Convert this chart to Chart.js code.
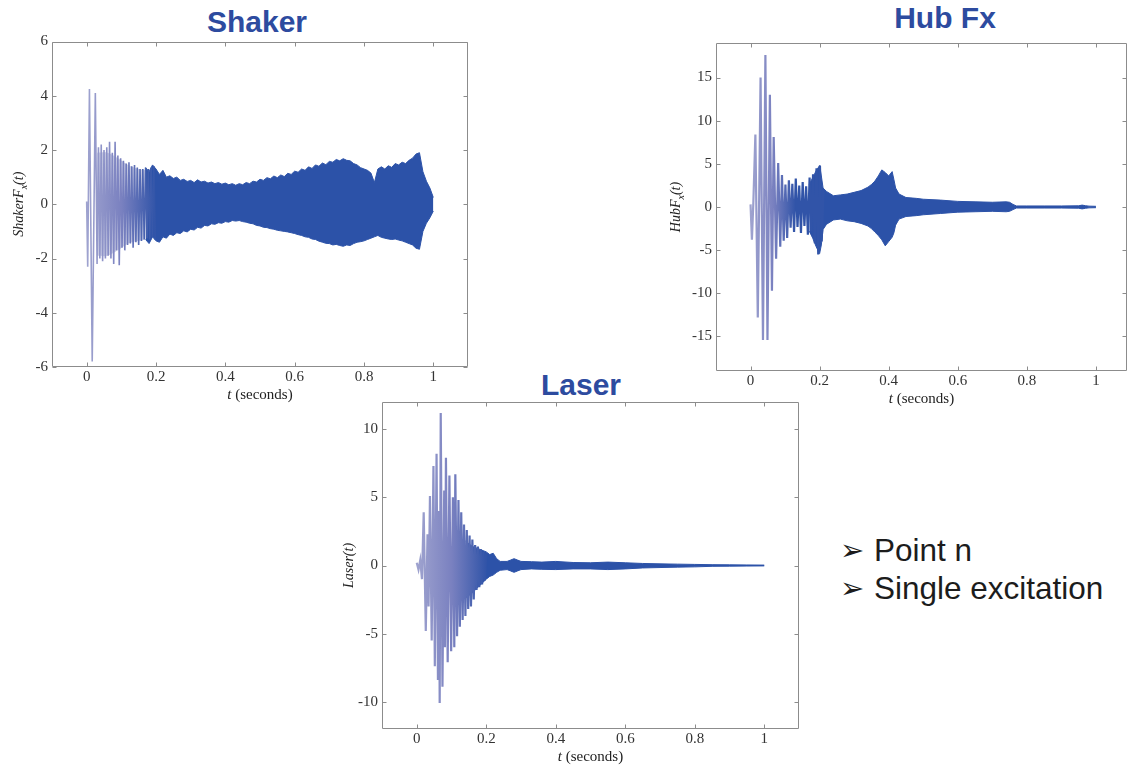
<!DOCTYPE html>
<html>
<head>
<meta charset="utf-8">
<script src="https://cdn.jsdelivr.net/npm/chart.js@4.4.1/dist/chart.umd.min.js"></script>
<style>
  html, body { margin: 0; padding: 0; background: #fff; overflow: hidden; }
  body { width: 1128px; height: 767px; position: relative; }
  canvas { position: absolute; }
  .ttl { position: absolute; font: bold 30px "Liberation Sans", Arial, sans-serif; color: #2d4b9f; line-height: 30px; white-space: nowrap; transform: translateX(-50%); }
  .bullets { position: absolute; left: 840px; top: 532px; font: 31.5px "Liberation Sans", Arial, sans-serif; line-height: 37.5px; color: #1c1c1c; white-space: nowrap; }
  .arr { display: inline-block; width: 34px; font: 29px "DejaVu Sans", sans-serif; vertical-align: 1px; }
</style>
</head>
<body>
<div class="ttl" style="left:257px; top:7px">Shaker</div>
<div class="ttl" style="left:945px; top:3px">Hub Fx</div>
<div class="ttl" style="left:581px; top:370px">Laser</div>
<div class="bullets">
  <div><span class="arr">➢</span>Point n</div>
  <div><span class="arr">➢</span>Single excitation</div>
</div>

<canvas id="shaker" width="480" height="380" style="left:0; top:30px"></canvas>
<canvas id="hub" width="468" height="400" style="left:660px; top:30px"></canvas>
<canvas id="laser" width="480" height="390" style="left:330px; top:380px"></canvas>

<script>
// Shaker: sparse start (peaks), pale fill behind it, then dense part (envelope)
const shakerSpikeT = [0, 0.003, 0.008, 0.016, 0.025, 0.030, 0.034, 0.038, 0.042, 0.046, 0.050, 0.054, 0.058, 0.062, 0.066, 0.070, 0.074, 0.078, 0.082, 0.086, 0.090, 0.094, 0.098, 0.102, 0.106, 0.110, 0.114, 0.118, 0.122, 0.126, 0.130, 0.134, 0.138, 0.142, 0.146, 0.150, 0.154, 0.158, 0.162, 0.166, 0.170, 0.174, 0.178, 0.182, 0.186, 0.190, 0.194, 0.198];
const shakerSpikeV = [0.1, -2.3, 4.25, -5.8, 4.1, -2.2, 2.1, -2.0, 2.2, -2.1, 2.0, -2.0, 2.1, -1.9, 2.3, -2.0, 1.9, -2.2, 2.3, -1.7, 1.8, -2.25, 1.7, -1.6, 1.6, -1.7, 1.5, -1.5, 1.55, -1.45, 1.4, -1.6, 1.45, -1.4, 1.35, -1.5, 1.3, -1.35, 1.3, -1.3, 1.35, -1.25, 1.3, -1.3, 1.35, -1.2, 1.4, -1.3];
const shakerHaloT = [0.03, 0.06, 0.09, 0.12, 0.15, 0.17];
const shakerHaloHi = [1.9, 1.9, 1.7, 1.45, 1.3, 1.25];
const shakerHaloLo = [-1.9, -1.9, -1.7, -1.45, -1.35, -1.3];
const shakerBandT = [0.17, 0.18, 0.19, 0.20, 0.21, 0.22, 0.23, 0.24, 0.25, 0.26,
    0.27, 0.28, 0.29, 0.30, 0.31, 0.32, 0.33, 0.34, 0.35, 0.36,
    0.37, 0.38, 0.39, 0.40, 0.41, 0.42, 0.43, 0.44, 0.45, 0.46,
    0.47, 0.48, 0.49, 0.50, 0.51, 0.52, 0.53, 0.54, 0.55, 0.56,
    0.57, 0.58, 0.59, 0.60, 0.61, 0.62, 0.63, 0.64, 0.65, 0.66,
    0.67, 0.68, 0.69, 0.70, 0.71, 0.72, 0.73, 0.74, 0.75, 0.76,
    0.77, 0.78, 0.79, 0.80, 0.81, 0.82, 0.83, 0.84, 0.85, 0.86,
    0.87, 0.88, 0.89, 0.90, 0.91, 0.92, 0.93, 0.94, 0.95, 0.96,
    0.97, 0.98, 0.99, 1.00];
const shakerBandHi = [1.35, 1.2, 1.45, 1.3, 1.1, 1.25, 1.0, 1.05, 0.95, 1.0,
    0.88, 0.92, 0.84, 0.88, 0.8, 0.9, 0.82, 0.85, 0.78, 0.82,
    0.76, 0.8, 0.74, 0.78, 0.72, 0.76, 0.7, 0.76, 0.72, 0.8,
    0.76, 0.85, 0.82, 0.92, 0.88, 0.98, 0.94, 1.04, 0.98, 1.08,
    1.02, 1.14, 1.1, 1.22, 1.18, 1.3, 1.25, 1.38, 1.32, 1.45,
    1.4, 1.52, 1.46, 1.58, 1.55, 1.65, 1.6, 1.68, 1.62, 1.6,
    1.5, 1.45, 1.35, 1.3, 1.25, 1.15, 0.8, 1.3, 1.38, 1.3,
    1.42, 1.36, 1.5, 1.45, 1.55, 1.5, 1.62, 1.7, 1.85, 1.9,
    1.2, 0.85, 0.6, 0.25];
const shakerBandLo = [-1.3, -1.45, -1.2, -1.35, -1.4, -1.2, -1.25, -1.1, -1.15, -1.05,
    -1.08, -0.98, -1.02, -0.92, -0.95, -0.85, -0.88, -0.78, -0.8, -0.72,
    -0.74, -0.68, -0.7, -0.64, -0.66, -0.6, -0.62, -0.6, -0.64, -0.66,
    -0.7, -0.72, -0.78, -0.8, -0.85, -0.86, -0.9, -0.92, -0.96, -0.98,
    -1.0, -1.02, -1.05, -1.08, -1.12, -1.15, -1.2, -1.22, -1.28, -1.3,
    -1.36, -1.4, -1.44, -1.45, -1.5, -1.48, -1.52, -1.55, -1.5, -1.52,
    -1.45, -1.4, -1.38, -1.35, -1.3, -1.25, -1.2, -1.15, -1.22, -1.25,
    -1.28, -1.3, -1.28, -1.32, -1.35, -1.4, -1.45, -1.5, -1.62, -1.66,
    -1.0, -0.7, -0.5, -0.25];

// Hub Fx
const hubSpikeT = [0, 0.004, 0.008, 0.014, 0.021, 0.029, 0.036, 0.043, 0.049, 0.056, 0.062, 0.067, 0.074, 0.080, 0.086, 0.091, 0.096, 0.101, 0.106, 0.111, 0.116, 0.121, 0.126, 0.131, 0.136, 0.141, 0.146, 0.151, 0.156, 0.161, 0.166, 0.171, 0.176, 0.181, 0.186, 0.191, 0.196, 0.201, 0.206, 0.211];
const hubSpikeV = [0.3, -3.8, 0.4, 8.4, -12.8, 15.0, -15.4, 17.6, -15.4, 13.0, -9.7, 8.1, -6.0, 5.1, -4.6, 3.7, -3.9, 2.6, -3.6, 3.1, -2.4, 2.7, -2.9, 3.3, -2.3, 2.5, -3.0, 2.9, -2.2, 2.4, -3.2, 3.4, -2.8, 3.8, -4.2, 4.5, -5.5, 4.8, -4.0, 2.0];
const hubBandT = [0.17, 0.18, 0.19, 0.2, 0.205, 0.21, 0.22, 0.24, 0.26, 0.28, 0.30, 0.32, 0.34, 0.35, 0.36, 0.37, 0.38, 0.39, 0.40, 0.41, 0.415, 0.42, 0.43, 0.45, 0.48, 0.5, 0.55, 0.6, 0.65, 0.7, 0.74, 0.75, 0.76, 0.77, 0.8, 0.85, 0.9, 0.95, 0.96, 0.97, 0.98, 1.0];
const hubBandHi = [2.6, 3.4, 4.2, 4.8, 3.6, 2.2, 1.8, 1.3, 1.4, 1.5, 1.7, 1.9, 2.3, 2.6, 3.0, 3.6, 4.3, 4.0, 3.6, 4.1, 3.2, 2.2, 1.5, 1.1, 1.0, 0.9, 0.8, 0.65, 0.6, 0.55, 0.6, 0.55, 0.3, 0.12, 0.12, 0.12, 0.12, 0.14, 0.22, 0.15, 0.1, 0.08];
const hubBandLo = [-2.8, -3.6, -4.6, -5.4, -4.4, -2.6, -2.0, -1.5, -1.4, -1.6, -1.7, -1.9, -2.2, -2.5, -2.9, -3.3, -3.8, -4.5, -4.0, -3.5, -3.0, -2.1, -1.4, -1.1, -1.0, -0.9, -0.75, -0.6, -0.55, -0.5, -0.55, -0.5, -0.3, -0.12, -0.12, -0.12, -0.12, -0.14, -0.22, -0.15, -0.1, -0.08];

// Laser
const laserSpikeT = [0, 0.005, 0.01, 0.015, 0.02, 0.026, 0.031, 0.034, 0.038, 0.043, 0.048, 0.052, 0.057, 0.061, 0.064, 0.066, 0.069, 0.074, 0.079, 0.081, 0.084, 0.089, 0.094, 0.099, 0.104, 0.108, 0.111, 0.116, 0.12, 0.124, 0.128, 0.132, 0.136, 0.14, 0.144, 0.148, 0.152, 0.156, 0.16, 0.164, 0.168, 0.172, 0.176, 0.18, 0.184, 0.188, 0.192, 0.196, 0.2];
const laserSpikeV = [0.2, -0.3, 0.4, -1.0, 3.9, -4.8, 2.3, -3.0, 5.1, -5.5, 7.3, -7.4, 8.2, -8.4, 4.0, -10.1, 11.2, -8.9, 5.5, -6.0, 7.9, -7.1, 6.6, -6.3, 5.0, -6.0, 6.7, -5.2, 4.8, -4.5, 3.9, -4.0, 3.0, -3.7, 2.6, -3.2, 2.2, -3.0, 1.9, -2.5, 1.5, -1.8, 1.4, -1.6, 1.2, -1.4, 1.0, -1.1, 0.9];
const laserBandT = [0.14, 0.16, 0.18, 0.2, 0.21, 0.22, 0.23, 0.24, 0.26, 0.27, 0.28, 0.29, 0.3, 0.33, 0.36, 0.4, 0.45, 0.5, 0.55, 0.6, 0.65, 0.7, 0.75, 0.8, 0.85, 0.9, 0.95, 1.0];
const laserBandHi = [1.8, 1.4, 1.2, 1.0, 0.8, 0.9, 0.5, 0.3, 0.3, 0.4, 0.5, 0.4, 0.3, 0.28, 0.25, 0.3, 0.22, 0.2, 0.25, 0.2, 0.15, 0.12, 0.1, 0.08, 0.06, 0.05, 0.04, 0.03];
const laserBandLo = [-2.4, -2.0, -1.5, -1.0, -0.8, -0.7, -0.5, -0.35, -0.3, -0.4, -0.5, -0.4, -0.3, -0.25, -0.28, -0.3, -0.25, -0.25, -0.3, -0.25, -0.18, -0.15, -0.12, -0.1, -0.06, -0.05, -0.04, -0.03];

// tick labels
const timeTicks = [0, 0.2, 0.4, 0.6, 0.8, 1];
const shakerYTicks = [-6, -4, -2, 0, 2, 4, 6];
const hubYTicks = [-15, -10, -5, 0, 5, 10, 15];
const laserYTicks = [-10, -5, 0, 5, 10];

const BLUE = '#2c52a8';
const SERIF = '"Liberation Serif", "Times New Roman", serif';

function zip(xs, ys) {
    return xs.map((x, i) => ({ x: x, y: ys[i] }));
}

// early oscillation goes from pale lavender to the dense blue
function spikeColor(chart, fadeTo) {
    const xs = chart.scales.x;
    if (!chart.chartArea || !xs) return '#8c90c4';
    const g = chart.ctx.createLinearGradient(xs.getPixelForValue(0), 0, xs.getPixelForValue(fadeTo), 0);
    g.addColorStop(0, '#9fa3cf');
    g.addColorStop(0.5, '#7a81c0');
    g.addColorStop(1, '#3154a8');
    return g;
}

// MATLAB style frame, inward ticks and axis titles
const frameAndTitles = {
    id: 'frameAndTitles',
    afterDraw(chart, args, opts) {
        const { ctx, chartArea: a, scales } = chart;
        const xs = scales.x, ys = scales.y;
        ctx.save();
        ctx.strokeStyle = '#8c8c8c';
        ctx.lineWidth = 1;
        ctx.beginPath();
        const l = Math.round(a.left) + 0.5, r = Math.round(a.right) - 0.5;
        const t = Math.round(a.top) + 0.5, b = Math.round(a.bottom) - 0.5;
        ctx.rect(l, t, r - l, b - t);
        xs.ticks.forEach(tk => {
            const px = Math.round(xs.getPixelForValue(tk.value)) + 0.5;
            ctx.moveTo(px, t); ctx.lineTo(px, t + 4);
            ctx.moveTo(px, b); ctx.lineTo(px, b - 4);
        });
        ys.ticks.forEach(tk => {
            const py = Math.round(ys.getPixelForValue(tk.value)) + 0.5;
            ctx.moveTo(l, py); ctx.lineTo(l + 4, py);
            ctx.moveTo(r, py); ctx.lineTo(r - 4, py);
        });
        ctx.stroke();

        // x title: italic t + (seconds)
        ctx.fillStyle = '#222';
        ctx.textBaseline = 'alphabetic';
        const italic = 'italic 15px ' + SERIF, plain = '15px ' + SERIF;
        ctx.font = italic;
        const w1 = ctx.measureText('t').width;
        ctx.font = plain;
        const w2 = ctx.measureText(' (seconds)').width;
        const x0 = (a.left + a.right) / 2 - (w1 + w2) / 2;
        ctx.font = italic;
        ctx.fillText('t', x0, a.bottom + 32);
        ctx.font = plain;
        ctx.fillText(' (seconds)', x0 + w1, a.bottom + 32);

        // y title, rotated, with optional subscript
        ctx.translate(a.left - opts.gap, (a.top + a.bottom) / 2);
        ctx.rotate(-Math.PI / 2);
        const parts = [
            { s: opts.name, f: 'italic 14px ' + SERIF, dy: 0 },
            { s: opts.sub, f: 'italic 10px ' + SERIF, dy: 4 },
            { s: opts.tail, f: 'italic 14px ' + SERIF, dy: 0 }
        ];
        let total = 0;
        parts.forEach(p => { ctx.font = p.f; p.w = ctx.measureText(p.s).width; total += p.w; });
        let x = -total / 2;
        parts.forEach(p => { ctx.font = p.f; ctx.fillText(p.s, x, 5 + p.dy); x += p.w; });
        ctx.restore();
    }
};

function makeChart(id, o) {
    const datasets = [
        { data: zip(o.spikeT, o.spikeV), borderColor: c => spikeColor(c.chart, o.fadeTo), borderWidth: o.spikeWidth, pointRadius: 0, fill: false, tension: 0 },
        { data: zip(o.bandT, o.bandHi), borderColor: BLUE, borderWidth: 1, pointRadius: 0, fill: false, tension: 0 },
        { data: zip(o.bandT, o.bandLo), borderColor: BLUE, borderWidth: 1, pointRadius: 0, fill: '-1', backgroundColor: BLUE, tension: 0 }
    ];
    if (o.haloT) {
        datasets.push(
            { data: zip(o.haloT, o.haloHi), borderColor: 'rgba(0,0,0,0)', borderWidth: 0, pointRadius: 0, fill: false, tension: 0.3 },
            { data: zip(o.haloT, o.haloLo), borderColor: 'rgba(0,0,0,0)', borderWidth: 0, pointRadius: 0, fill: '-1', backgroundColor: 'rgba(140,146,196,0.45)', tension: 0.3 }
        );
    }
    return new Chart(document.getElementById(id), {
        type: 'line',
        data: { datasets: datasets },
        options: {
            responsive: false,
            animation: false,
            events: [],
            layout: { padding: o.padding },
            plugins: {
                legend: { display: false },
                tooltip: { enabled: false },
                frameAndTitles: o.titles
            },
            scales: {
                x: {
                    type: 'linear',
                    min: o.xMin,
                    max: o.xMax,
                    grid: { display: false, drawTicks: false },
                    border: { display: false },
                    afterBuildTicks: s => { s.ticks = timeTicks.map(v => ({ value: v })); },
                    afterFit: s => { s.height = o.xHeight; },
                    ticks: {
                        autoSkip: false,
                        maxRotation: 0,
                        padding: 3,
                        color: '#333',
                        font: { family: SERIF, size: 15, lineHeight: 1 },
                        callback: v => String(v)
                    }
                },
                y: {
                    min: o.yMin,
                    max: o.yMax,
                    grid: { display: false, drawTicks: false },
                    border: { display: false },
                    afterBuildTicks: s => { s.ticks = o.yTicks.map(v => ({ value: v })); },
                    afterFit: s => { s.width = o.yWidth; },
                    ticks: {
                        autoSkip: false,
                        padding: 4,
                        color: '#333',
                        font: { family: SERIF, size: 15, lineHeight: 1 },
                        callback: v => String(v)
                    }
                }
            }
        },
        plugins: [frameAndTitles]
    });
}

document.addEventListener('DOMContentLoaded', function() {
    makeChart('shaker', {
        spikeT: shakerSpikeT, spikeV: shakerSpikeV,
        haloT: shakerHaloT, haloHi: shakerHaloHi, haloLo: shakerHaloLo,
        bandT: shakerBandT, bandHi: shakerBandHi, bandLo: shakerBandLo,
        fadeTo: 0.2, spikeWidth: 1.6,
        xMin: -0.1, xMax: 1.1, yMin: -6, yMax: 6, yTicks: shakerYTicks,
        padding: { top: 8, right: 12, left: 0, bottom: 0 },
        yWidth: 52, xHeight: 43,
        titles: { name: 'ShakerF', sub: 'x', tail: '(t)', gap: 34 }
    });

    makeChart('hub', {
        spikeT: hubSpikeT, spikeV: hubSpikeV,
        bandT: hubBandT, bandHi: hubBandHi, bandLo: hubBandLo,
        fadeTo: 0.13, spikeWidth: 2.2,
        xMin: -0.1, xMax: 1.09, yMin: -19, yMax: 19, yTicks: hubYTicks,
        padding: { top: 13, right: 1, left: 0, bottom: 0 },
        yWidth: 56, xHeight: 59,
        titles: { name: 'HubF', sub: 'x', tail: '(t)', gap: 41 }
    });

    makeChart('laser', {
        spikeT: laserSpikeT, spikeV: laserSpikeV,
        bandT: laserBandT, bandHi: laserBandHi, bandLo: laserBandLo,
        fadeTo: 0.2, spikeWidth: 2.2,
        xMin: -0.1, xMax: 1.1, yMin: -12, yMax: 12, yTicks: laserYTicks,
        padding: { top: 22, right: 11, left: 0, bottom: 0 },
        yWidth: 52, xHeight: 41,
        titles: { name: 'Laser', sub: '', tail: '(t)', gap: 34 }
    });
});
</script>
</body>
</html>
